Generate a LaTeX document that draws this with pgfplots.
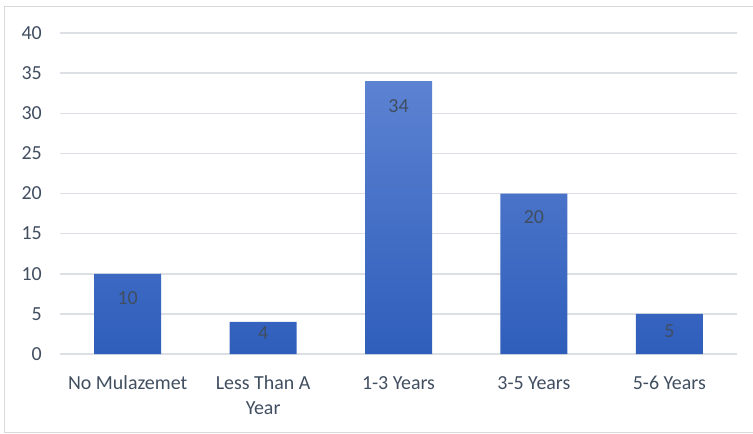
\documentclass[border=0pt]{standalone}
\usepackage{pgfplots}
\pgfplotsset{compat=1.18}
\usepackage{pgfplotstable}
\usepackage{fontspec}
\setmainfont{Carlito}
\definecolor{txt}{RGB}{64,78,96}
\definecolor{gridc}{RGB}{220,223,228}
\definecolor{barTop}{RGB}{92,130,210}
\definecolor{barBot}{RGB}{47,94,187}
\definecolor{framec}{RGB}{217,217,217}
\pgfplotstableread{
x y off
0 10 24
1 4 11
2 34 25
3 20 24
4 5 17
}\datatable
\begin{document}
\begin{tikzpicture}
\path[use as bounding box] (-60bp,-80bp) rectangle (693bp,354bp);
\clip (-60bp,-80bp) rectangle (693bp,354bp);
\draw[framec, line width=1bp] (-55bp,-78bp) rectangle (700bp,347bp);
\begin{axis}[
  at={(0,0)}, anchor=south west,
  scale only axis,
  width=677bp, height=321bp,
  xmin=-0.5, xmax=4.5,
  ymin=0, ymax=40,
  ytick={0,5,...,40},
  xtick=data,
  xticklabels={{\strut No Mulazemet},{\strut Less Than A\\Year},{\strut 1-3 Years},{\strut 3-5 Years},{\strut 5-6 Years}},
  axis line style={draw=none},
  major tick length=0pt,
  ymajorgrids,
  grid style={gridc, line width=1.5bp},
  /pgf/number format/assume math mode=true,
  tick label style={font=\fontsize{20}{25}\selectfont, text=txt},
  yticklabel style={anchor=east, inner sep=0pt, xshift=-18bp},
  xticklabel style={anchor=north, inner sep=0pt, align=center, yshift=-17.5bp},
  clip=false,
]
\addplot[ybar, bar width=67bp, draw=none, top color=barTop, bottom color=barBot,
  nodes near coords,
  visualization depends on={\thisrow{off} \as \myoff},
  nodes near coords style={anchor=center, inner sep=0pt, yshift=-\myoff bp, font=\fontsize{20}{24}\selectfont, text=txt},
] table[x=x, y=y] {\datatable};
\end{axis}
\end{tikzpicture}
\end{document}
